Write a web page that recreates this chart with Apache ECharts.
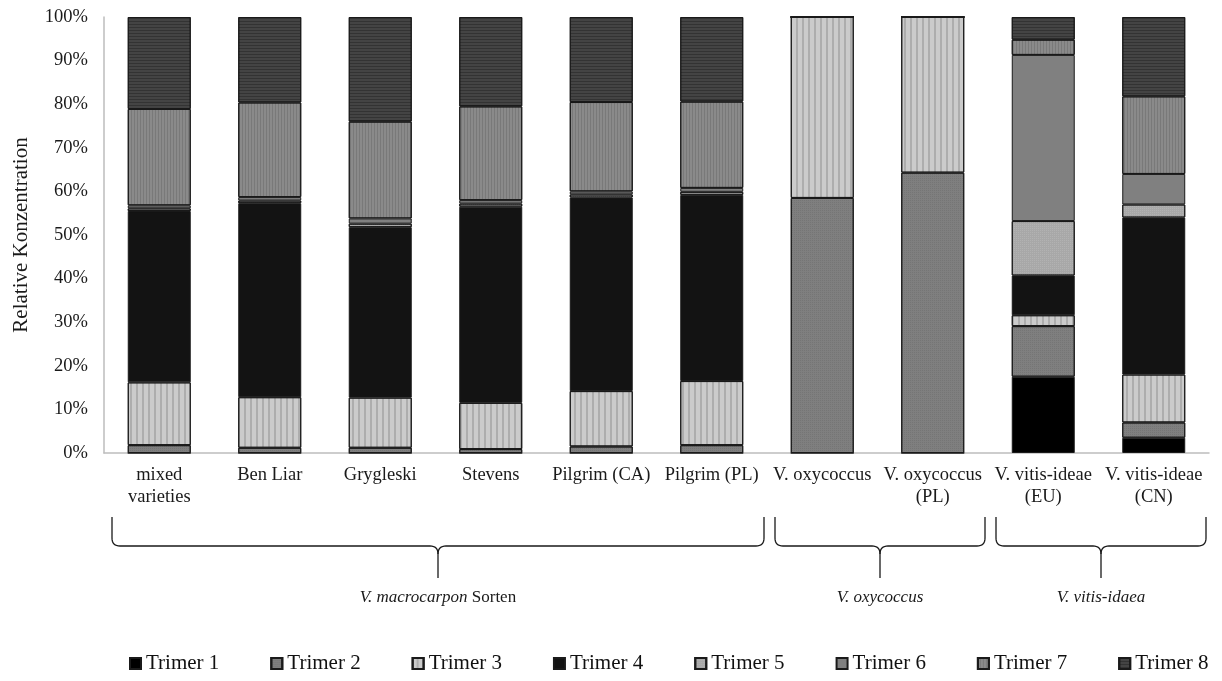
<!DOCTYPE html>
<html>
<head>
<meta charset="utf-8">
<script src="https://cdn.jsdelivr.net/npm/echarts@6/dist/echarts.min.js"></script>
<style>
  html, body { margin: 0; padding: 0; background: #fff; }
  #chart { width: 1222px; height: 681px; }
</style>
</head>
<body>
<div id="chart"></div>
<script>
// Kategorien (Sorten / Herkunft)
var categories = ['mixed\nvarieties', 'Ben Liar', 'Grygleski', 'Stevens', 'Pilgrim (CA)', 'Pilgrim (PL)',
  'V. oxycoccus', 'V. oxycoccus\n(PL)', 'V. vitis-ideae\n(EU)', 'V. vitis-ideae\n(CN)'];

// Anteile je Trimer in % (aus dem Bild geschätzt)
var trimer1 = [0, 0, 0, 0, 0, 0, 0, 0, 17.5, 3.5];
var trimer2 = [1.8, 1.2, 1.2, 0.9, 1.5, 1.8, 58.5, 64.3, 11.6, 3.5];
var trimer3 = [14.4, 11.6, 11.5, 10.6, 12.7, 14.7, 41.5, 35.7, 2.5, 11.0];
var trimer4 = [39.3, 44.5, 39.1, 45.0, 44.4, 42.7, 0, 0, 9.1, 36.0];
var trimer5 = [0.6, 0.6, 0.8, 0.7, 0.7, 0.7, 0, 0, 12.5, 3.0];
var trimer6 = [0.7, 0.8, 1.2, 0.8, 0.7, 0.9, 0, 0, 38.1, 7.0];
var trimer7 = [22.1, 21.7, 22.2, 21.5, 20.5, 19.8, 0, 0, 3.5, 17.8];
var trimer8 = [21.1, 19.6, 24.0, 20.5, 19.5, 19.4, 0, 0, 5.2, 18.2];

var yTicks = { min: 0, max: 100, interval: 10 };

// Gruppen unter der Achse (Klammern)
var groupFrom = [0, 6, 8];
var groupTo = [5, 7, 9];
var groupItalic = ['V. macrocarpon', 'V. oxycoccus', 'V. vitis-idaea'];
var groupRest = [' Sorten', '', ''];

var serif = '"Liberation Serif", "Times New Roman", serif';

// Muster der Excel-Füllungen
function stripes(rot, col, dash) {
  return { symbol: 'rect', dashArrayX: [1, 0], dashArrayY: dash || [2, 3], rotation: rot, color: col };
}

var styles = [
  { color: '#000000' },
  { color: '#7f7f7f', decal: { symbol: 'rect', symbolSize: 1, dashArrayX: [1, 1], dashArrayY: [1, 1], color: 'rgba(0,0,0,0.08)' } },
  { color: '#cbcbcb', decal: stripes(Math.PI / 2, 'rgba(0,0,0,0.15)', [2, 4]) },
  { color: '#131313' },
  { color: '#a8a8a8', decal: { symbol: 'rect', symbolSize: 1, dashArrayX: [1, 1], dashArrayY: [1, 1], color: 'rgba(255,255,255,0.12)' } },
  { color: '#808080' },
  { color: '#8a8a8a', decal: stripes(Math.PI / 2, 'rgba(0,0,0,0.12)', [1, 2]) },
  { color: '#444444', decal: stripes(0, 'rgba(0,0,0,0.25)', [1, 2]) }
];

var allData = [trimer1, trimer2, trimer3, trimer4, trimer5, trimer6, trimer7, trimer8];
var series = allData.map(function (d, i) {
  var st = styles[i];
  return {
    name: 'Trimer ' + (i + 1),
    type: 'bar',
    stack: 'total',
    barWidth: '57%',
    data: d,
    itemStyle: {
      color: st.color,
      decal: st.decal,
      borderColor: '#1a1a1a',
      borderWidth: 1
    }
  };
});

var chart = echarts.init(document.getElementById('chart'));
chart.setOption({
  animation: false,
  grid: { left: 104, right: 13, top: 17, bottom: 228 },
  legend: {
    bottom: 2,
    left: 124,
    itemWidth: 11,
    itemHeight: 11,
    itemGap: 51,
    icon: 'rect',
    textStyle: { fontFamily: serif, fontSize: 21, color: '#111' },
    data: series.map(function (s) { return s.name; })
  },
  xAxis: {
    type: 'category',
    data: categories,
    axisLine: { lineStyle: { color: '#bdbdbd', width: 1.5 } },
    axisTick: { show: false },
    axisLabel: {
      interval: 0,
      margin: 11,
      fontFamily: serif,
      fontSize: 18.5,
      lineHeight: 22,
      color: '#1a1a1a'
    }
  },
  yAxis: {
    type: 'value',
    min: yTicks.min,
    max: yTicks.max,
    interval: yTicks.interval,
    name: 'Relative Konzentration',
    nameLocation: 'middle',
    nameGap: 72,
    nameTextStyle: { fontFamily: serif, fontSize: 21, color: '#1a1a1a' },
    axisLine: { show: true, lineStyle: { color: '#bdbdbd', width: 1.5 } },
    axisTick: { show: false },
    splitLine: { show: false },
    axisLabel: {
      formatter: '{value}%',
      margin: 16,
      fontFamily: serif,
      fontSize: 18.5,
      color: '#1a1a1a'
    }
  },
  series: series
});

// Punkte einer quadratischen Kurve
function quad(p0, c, p1, pts) {
  for (var k = 1; k <= 8; k++) {
    var t = k / 8, u = 1 - t;
    pts.push([u * u * p0[0] + 2 * u * t * c[0] + t * t * p1[0],
              u * u * p0[1] + 2 * u * t * c[1] + t * t * p1[1]]);
  }
}

// Klammern und Gruppentitel aus den Achsenpositionen
function drawBraces() {
  var c0 = chart.convertToPixel({ xAxisIndex: 0 }, 0);
  var c1 = chart.convertToPixel({ xAxisIndex: 0 }, 1);
  var band = c1 - c0;
  var yTop = 517, yMid = 546, yTip = 578, r = 8;
  var els = [];
  for (var g = 0; g < groupFrom.length; g++) {
    var x0 = chart.convertToPixel({ xAxisIndex: 0 }, groupFrom[g]) - band / 2 + 8;
    var x1 = chart.convertToPixel({ xAxisIndex: 0 }, groupTo[g]) + band / 2 - 3;
    var xm = (x0 + x1) / 2;
    var left = [[x0, yTop], [x0, yMid - r]];
    quad([x0, yMid - r], [x0, yMid], [x0 + r, yMid], left);
    left.push([xm - r, yMid]);
    quad([xm - r, yMid], [xm, yMid], [xm, yMid + r], left);
    left.push([xm, yTip]);
    var right = [[x1, yTop], [x1, yMid - r]];
    quad([x1, yMid - r], [x1, yMid], [x1 - r, yMid], right);
    right.push([xm + r, yMid]);
    quad([xm + r, yMid], [xm, yMid], [xm, yMid + r], right);
    [left, right].forEach(function (pts) {
      els.push({
        type: 'polyline',
        shape: { points: pts },
        style: { fill: null, stroke: '#1a1a1a', lineWidth: 1.3 }
      });
    });
    els.push({
      type: 'text',
      x: xm,
      y: 598,
      style: {
        text: '{i|' + groupItalic[g] + '}' + (groupRest[g] ? '{n|' + groupRest[g] + '}' : ''),
        align: 'center',
        verticalAlign: 'middle',
        rich: {
          i: { fontFamily: serif, fontSize: 17, fontStyle: 'italic', fill: '#1a1a1a' },
          n: { fontFamily: serif, fontSize: 17, fill: '#1a1a1a' }
        }
      }
    });
  }
  chart.setOption({ graphic: els });
}
drawBraces();

window.onresize = function () {
  chart.resize();
  drawBraces();
};
</script>
</body>
</html>
